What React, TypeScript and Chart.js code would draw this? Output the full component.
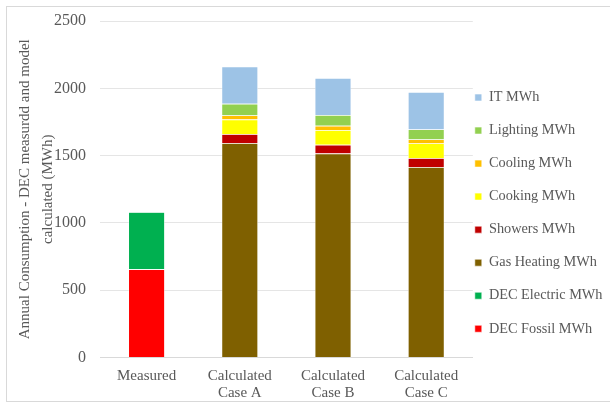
import React, { useEffect, useRef } from 'react';
import { Chart, registerables } from 'chart.js';

Chart.register(...registerables);

const categories = [['Measured'], ['Calculated', 'Case A'], ['Calculated', 'Case B'], ['Calculated', 'Case C']];

const decFossil = [655, null, null, null];
const decElectric = [424, null, null, null];
const gasHeating = [null, 1592, 1515, 1414];
const showers = [null, 67, 65, 67];
const cooking = [null, 109, 109, 109];
const cooling = [null, 30, 32, 30];
const lighting = [null, 87, 80, 74];
const itLoad = [null, 275, 275, 278];

const yTicks = [0, 500, 1000, 1500, 2000, 2500];

const grey = '#595959';
const font = 'Liberation Serif, Times New Roman, serif';

const App: React.FC = () => {
    const canvasRef = useRef<HTMLCanvasElement | null>(null);

    useEffect(() => {
        if (!canvasRef.current) return;
        const ctx = canvasRef.current.getContext('2d');
        if (!ctx) return;

        const mk = (label: string, data: (number | null)[], color: string) => ({
            label,
            data,
            backgroundColor: color,
            borderColor: '#ffffff',
            borderWidth: 0.6,
            barPercentage: 0.39,
            categoryPercentage: 1,
        });

        const chart = new Chart(ctx, {
            type: 'bar',
            data: {
                labels: categories,
                datasets: [
                    mk('DEC Fossil MWh', decFossil, '#FF0000'),
                    mk('DEC Electric MWh', decElectric, '#00B050'),
                    mk('Gas Heating MWh', gasHeating, '#7F6000'),
                    mk('Showers MWh', showers, '#C00000'),
                    mk('Cooking MWh', cooking, '#FFFF00'),
                    mk('Cooling MWh', cooling, '#FFC000'),
                    mk('Lighting MWh', lighting, '#92D050'),
                    mk('IT MWh', itLoad, '#9DC3E6'),
                ],
            },
            options: {
                responsive: false,
                animation: false,
                layout: { padding: { top: 0, right: -1.5, left: 7, bottom: -13 } },
                plugins: {
                    tooltip: { enabled: false },
                    legend: {
                        position: 'right',
                        reverse: true,
                        // empty title only pushes the items down a little
                        title: { display: true, text: ' ', font: { size: 20, lineHeight: 1.2 }, padding: 0 },
                        labels: {
                            boxWidth: 7,
                            boxHeight: 7,
                            padding: 2,
                            color: grey,
                            font: { family: font, size: 14.3, lineHeight: 2.17 },
                            generateLabels: (c) =>
                                Chart.defaults.plugins.legend.labels.generateLabels(c).map((l: any) => ({ ...l, text: [l.text] })),
                        },
                    },
                },
                scales: {
                    x: {
                        stacked: true,
                        grid: { display: false, drawTicks: false },
                        border: { color: '#d9d9d9' },
                        ticks: { color: grey, padding: 10, font: { family: font, size: 15, lineHeight: 1.15 }, maxRotation: 0 },
                    },
                    y: {
                        stacked: true,
                        min: 0,
                        max: 2500,
                        afterBuildTicks: (axis) => {
                            axis.ticks = yTicks.map((v) => ({ value: v }));
                        },
                        afterFit: (axis: any) => {
                            axis.paddingTop = 14;
                        },
                        grid: { color: '#e5e5e5', drawTicks: false },
                        border: { display: false },
                        ticks: {
                            color: grey,
                            padding: 14,
                            font: { family: font, size: 16 },
                            callback: (v) => String(v),
                        },
                        title: {
                            display: true,
                            text: ['Annual Consumption - DEC measurdd and model', 'calculated (MWh)'],
                            color: grey,
                            font: { family: font, size: 15, lineHeight: 1.5 },
                            padding: { top: 0, bottom: -19 },
                        },
                    },
                },
            },
        });
        return () => {
            chart.destroy();
        };
    }, []);

    return (
        <div style={{ position: 'fixed', left: 6, top: 6, width: 610, height: 394, border: '1px solid #d9d9d9', background: '#fff' }}>
            <canvas ref={canvasRef} width={604} height={392}></canvas>
        </div>
    );
};

export default App;
